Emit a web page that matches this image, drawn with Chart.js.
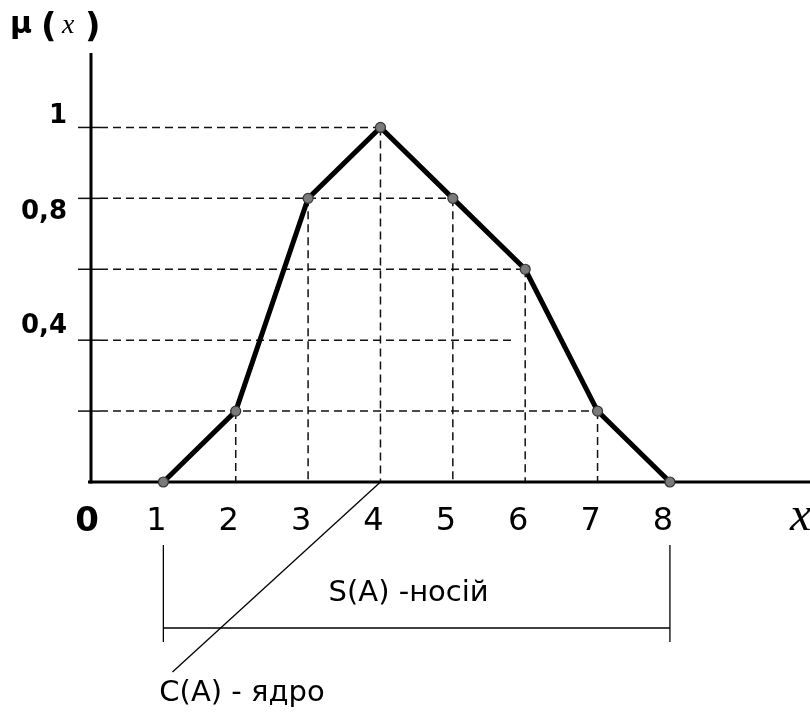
<!DOCTYPE html>
<html>
<head>
<meta charset="utf-8">
<title>μ(x)</title>
<script src="https://cdn.jsdelivr.net/npm/chart.js@4/dist/chart.umd.min.js"></script>
<style>
  html, body { margin: 0; padding: 0; background: #fff; }
  #wrap { width: 810px; height: 715px; position: relative; }
</style>
</head>
<body>
<div id="wrap"><canvas id="c"></canvas></div>
<script>
// Membership function of the fuzzy set A
const xValues = [1, 2, 3, 4, 5, 6, 7, 8];
const muValues = [0, 0.2, 0.8, 1, 0.8, 0.6, 0.2, 0];

// Axis ticks
const xTickLabels = ['1', '2', '3', '4', '5', '6', '7', '8'];
const yTickValues = [1, 0.8, 0.6, 0.4, 0.2];
const yTickLabels = ['1', '0,8', '', '0,4', ''];

// Dashed level lines: where each one stops along x
const levelLineEnds = [4, 5, 6, 5.85, 7];
// Dashed drop lines from the curve to the x axis
const dropXs = [2, 3, 4, 5, 6, 7];

// Support and core of A
const supportRange = [1, 8];
const coreX = 4;

const FONT = '"DejaVu Sans", Verdana, sans-serif';
const SERIF = '"Liberation Serif", "DejaVu Serif", serif';

function seg(ctx, x1, y1, x2, y2) {
  ctx.beginPath();
  ctx.moveTo(x1, y1);
  ctx.lineTo(x2, y2);
  ctx.stroke();
}

const diagramPlugin = {
  id: 'diagram',
  beforeDatasetsDraw(chart) {
    const ctx = chart.ctx;
    const xs = chart.scales.x, ys = chart.scales.y;
    const px = v => xs.getPixelForValue(v);
    const py = v => ys.getPixelForValue(v);
    const x0 = px(0), y0 = py(0);
    ctx.save();
    ctx.lineCap = 'butt';

    // dashed level lines
    ctx.strokeStyle = '#111';
    ctx.lineWidth = 1.5;
    ctx.setLineDash([8, 5]);
    yTickValues.forEach((v, i) => seg(ctx, x0 + 9, py(v), px(levelLineEnds[i]), py(v)));
    // dashed drop lines
    dropXs.forEach(x => {
      const mu = muValues[xValues.indexOf(x)];
      seg(ctx, px(x), py(mu), px(x), y0);
    });
    ctx.setLineDash([]);

    // y ticks
    ctx.lineWidth = 1.5;
    yTickValues.forEach(v => seg(ctx, x0 - 13, py(v), x0 + 9, py(v)));

    // axes
    ctx.strokeStyle = '#000';
    ctx.lineWidth = 3;
    seg(ctx, x0, chart.chartArea.top, x0, y0 + 1.5);
    seg(ctx, x0 - 3, y0, chart.width, y0);

    // core leader line and support bracket
    ctx.lineWidth = 1.3;
    seg(ctx, px(coreX), y0, px(coreX) - 208, y0 + 190);
    const sx1 = px(supportRange[0]), sx2 = px(supportRange[1]);
    seg(ctx, sx1, y0 + 63, sx1, y0 + 160);
    seg(ctx, sx2, y0 + 63, sx2, y0 + 160);
    seg(ctx, sx1, y0 + 146, sx2, y0 + 146);

    // tick labels
    ctx.fillStyle = '#000';
    ctx.textBaseline = 'alphabetic';
    ctx.textAlign = 'center';
    ctx.font = '32px ' + FONT;
    xValues.forEach((x, i) => ctx.fillText(xTickLabels[i], px(x) - 7, y0 + 48));
    ctx.font = 'bold 34px ' + FONT;
    ctx.fillText('0', x0 - 4, y0 + 49);

    ctx.textAlign = 'right';
    ctx.font = 'bold 26px ' + FONT;
    const yLabelShift = [-4, 21, 0, -7, 0];
    yTickValues.forEach((v, i) => {
      if (yTickLabels[i]) ctx.fillText(yTickLabels[i], x0 - 24, py(v) + yLabelShift[i]);
    });

    // axis titles
    ctx.textAlign = 'left';
    ctx.font = 'italic 48px ' + SERIF;
    ctx.fillText('x', x0 + 699, y0 + 48);

    ctx.font = 'bold 30px ' + FONT;
    ctx.fillText('μ', 10, 33);
    ctx.font = 'bold 34px ' + FONT;
    ctx.fillText('(', 41, 37);
    ctx.fillText(')', 85, 37);
    ctx.font = 'italic 28px ' + SERIF;
    ctx.fillText('x', 62, 33);

    // annotations
    ctx.font = '29px ' + FONT;
    ctx.textAlign = 'center';
    ctx.fillText('S(A) -носій', (sx1 + sx2) / 2 - 8, y0 + 119);
    ctx.textAlign = 'left';
    ctx.fillText('C(A) - ядро', sx1 - 4, y0 + 219);

    ctx.restore();
  }
};

new Chart(document.getElementById('c'), {
  type: 'line',
  data: {
    datasets: [{
      data: xValues.map((x, i) => ({ x: x, y: muValues[i] })),
      borderColor: '#000',
      borderWidth: 5,
      tension: 0,
      pointRadius: 5,
      pointBackgroundColor: '#7a7a7a',
      pointBorderColor: '#333',
      pointBorderWidth: 1.2,
      clip: false
    }]
  },
  options: {
    responsive: true,
    maintainAspectRatio: false,
    animation: false,
    layout: { padding: { left: 91, right: 0, top: 53, bottom: 233 } },
    scales: {
      x: { type: 'linear', min: 0, max: 9.85, display: false },
      y: { type: 'linear', min: 0, max: 1.21, display: false }
    },
    plugins: { legend: { display: false }, tooltip: { enabled: false } }
  },
  plugins: [diagramPlugin]
});
</script>
</body>
</html>
